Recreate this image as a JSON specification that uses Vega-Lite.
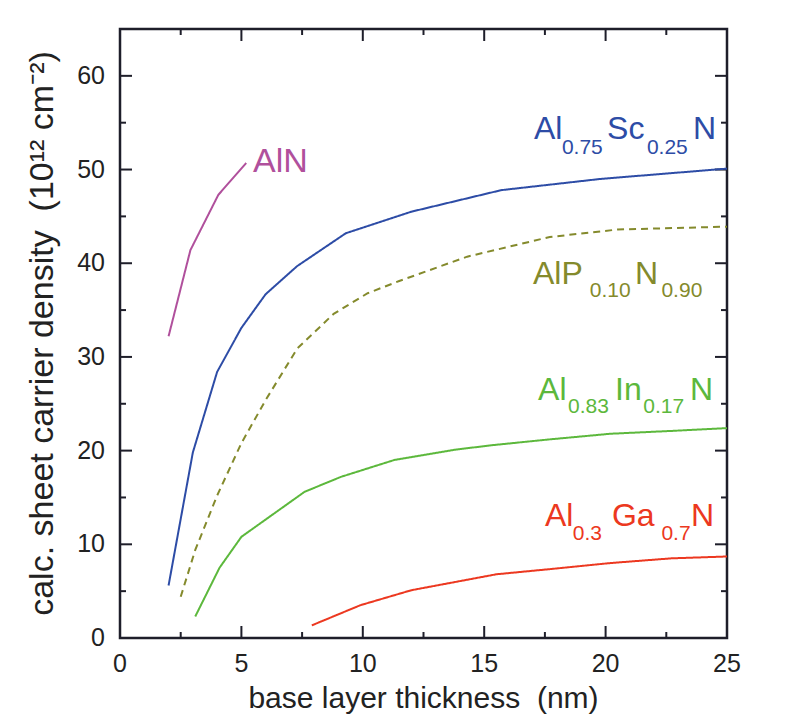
{
  "$schema": "https://vega.github.io/schema/vega-lite/v6.json",
  "width": 607,
  "height": 609,
  "autosize": "none",
  "padding": {"left": 120, "top": 29, "right": 68, "bottom": 84},
  "background": "white",
  "config": {
    "view": {"stroke": "#1e1e2a", "strokeWidth": 2.5},
    "text": {"font": "Liberation Sans"}
  },
  "datasets": {
    "curves": [
      {"series": "AlN", "x": 2.0, "y": 32.2}, {"series": "AlN", "x": 2.9, "y": 41.4}, {"series": "AlN", "x": 4.05, "y": 47.3}, {"series": "AlN", "x": 5.2, "y": 50.7},
      {"series": "AlScN", "x": 2.0, "y": 5.6}, {"series": "AlScN", "x": 3.0, "y": 19.8}, {"series": "AlScN", "x": 4.0, "y": 28.4}, {"series": "AlScN", "x": 5.0, "y": 33.1}, {"series": "AlScN", "x": 6.0, "y": 36.7}, {"series": "AlScN", "x": 7.3, "y": 39.7}, {"series": "AlScN", "x": 9.3, "y": 43.2}, {"series": "AlScN", "x": 12.0, "y": 45.5}, {"series": "AlScN", "x": 15.7, "y": 47.8}, {"series": "AlScN", "x": 19.8, "y": 49.0}, {"series": "AlScN", "x": 25.0, "y": 50.1},
      {"series": "AlPN", "x": 2.5, "y": 4.4}, {"series": "AlPN", "x": 3.1, "y": 9.4}, {"series": "AlPN", "x": 4.0, "y": 15.2}, {"series": "AlPN", "x": 5.0, "y": 20.8}, {"series": "AlPN", "x": 6.0, "y": 25.4}, {"series": "AlPN", "x": 7.3, "y": 30.9}, {"series": "AlPN", "x": 8.8, "y": 34.6}, {"series": "AlPN", "x": 10.2, "y": 36.8}, {"series": "AlPN", "x": 11.5, "y": 38.1}, {"series": "AlPN", "x": 14.3, "y": 40.7}, {"series": "AlPN", "x": 17.7, "y": 42.8}, {"series": "AlPN", "x": 20.5, "y": 43.6}, {"series": "AlPN", "x": 25.0, "y": 43.9},
      {"series": "AlInN", "x": 3.1, "y": 2.3}, {"series": "AlInN", "x": 4.1, "y": 7.5}, {"series": "AlInN", "x": 5.0, "y": 10.8}, {"series": "AlInN", "x": 6.3, "y": 13.2}, {"series": "AlInN", "x": 7.6, "y": 15.6}, {"series": "AlInN", "x": 9.1, "y": 17.2}, {"series": "AlInN", "x": 11.3, "y": 19.0}, {"series": "AlInN", "x": 13.8, "y": 20.1}, {"series": "AlInN", "x": 15.4, "y": 20.6}, {"series": "AlInN", "x": 17.7, "y": 21.2}, {"series": "AlInN", "x": 20.2, "y": 21.8}, {"series": "AlInN", "x": 22.7, "y": 22.1}, {"series": "AlInN", "x": 25.0, "y": 22.4},
      {"series": "AlGaN", "x": 7.9, "y": 1.35}, {"series": "AlGaN", "x": 9.9, "y": 3.5}, {"series": "AlGaN", "x": 12.0, "y": 5.1}, {"series": "AlGaN", "x": 15.5, "y": 6.8}, {"series": "AlGaN", "x": 17.7, "y": 7.35}, {"series": "AlGaN", "x": 20.2, "y": 8.0}, {"series": "AlGaN", "x": 22.7, "y": 8.5}, {"series": "AlGaN", "x": 25.0, "y": 8.7}
    ],
    "big": [
      {"series": "AlN", "t": "AlN", "x": 5.48, "y": 49.74, "size": "l"},
      {"series": "AlScN", "t": "Al", "x": 17.05, "y": 53.26, "size": "m"}, {"series": "AlScN", "t": "Sc", "x": 20.06, "y": 53.26, "size": "m"}, {"series": "AlScN", "t": "N", "x": 23.6, "y": 53.26, "size": "m"},
      {"series": "AlPN", "t": "AlP", "x": 17.01, "y": 37.78, "size": "m"}, {"series": "AlPN", "t": "N", "x": 21.21, "y": 37.78, "size": "m"},
      {"series": "AlInN", "t": "Al", "x": 17.22, "y": 25.4, "size": "m"}, {"series": "AlInN", "t": "In", "x": 20.39, "y": 25.4, "size": "m"}, {"series": "AlInN", "t": "N", "x": 23.48, "y": 25.4, "size": "m"},
      {"series": "AlGaN", "t": "Al", "x": 17.5, "y": 11.95, "size": "m"}, {"series": "AlGaN", "t": "Ga", "x": 20.26, "y": 11.95, "size": "m"}, {"series": "AlGaN", "t": "N", "x": 23.52, "y": 11.95, "size": "m"}
    ],
    "sub": [
      {"series": "AlScN", "t": "0.75", "x": 18.2, "y": 51.7}, {"series": "AlScN", "t": "0.25", "x": 21.7, "y": 51.7},
      {"series": "AlPN", "t": "0.10", "x": 19.35, "y": 36.4}, {"series": "AlPN", "t": "0.90", "x": 22.3, "y": 36.4},
      {"series": "AlInN", "t": "0.83", "x": 18.45, "y": 24.0}, {"series": "AlInN", "t": "0.17", "x": 21.55, "y": 24.0},
      {"series": "AlGaN", "t": "0.3", "x": 18.65, "y": 10.5}, {"series": "AlGaN", "t": "0.7", "x": 22.3, "y": 10.5}
    ],
    "xlab": [{"v": 0}, {"v": 5}, {"v": 10}, {"v": 15}, {"v": 20}, {"v": 25}],
    "ylab": [{"v": 0}, {"v": 10}, {"v": 20}, {"v": 30}, {"v": 40}, {"v": 50}, {"v": 60}],
    "xtitle": [{"t": "base layer thickness\u00a0 (nm)"}],
    "ytitle": [{"t": "calc. sheet carrier density\u00a0 (10¹² cm⁻²)"}],
    "xmajor": [{"v": 5}, {"v": 10}, {"v": 15}, {"v": 20}],
    "xminor": [{"v": 2.5}, {"v": 7.5}, {"v": 12.5}, {"v": 17.5}, {"v": 22.5}],
    "ymajor": [{"v": 10}, {"v": 20}, {"v": 30}, {"v": 40}, {"v": 50}, {"v": 60}],
    "yminor": [{"v": 5}, {"v": 15}, {"v": 25}, {"v": 35}, {"v": 45}, {"v": 55}]
  },
  "layer": [
    {
      "data": {"name": "xmajor"},
      "mark": {"type": "rule", "color": "#1e1e2a", "strokeWidth": 2, "opacity": 1},
      "encoding": {"x": {"field": "v", "type": "quantitative", "scale": {"domain": [0, 25], "nice": false, "zero": false}, "axis": null}, "y": {"datum": 0, "type": "quantitative", "scale": {"domain": [0, 65], "nice": false, "zero": false}, "axis": null}, "y2": {"datum": 1.28}}
    },
    {
      "data": {"name": "xmajor"},
      "mark": {"type": "rule", "color": "#1e1e2a", "strokeWidth": 2, "opacity": 1},
      "encoding": {"x": {"field": "v", "type": "quantitative", "axis": null}, "y": {"datum": 65, "type": "quantitative", "axis": null}, "y2": {"datum": 63.72}}
    },
    {
      "data": {"name": "xminor"},
      "mark": {"type": "rule", "color": "#1e1e2a", "strokeWidth": 2, "opacity": 1},
      "encoding": {"x": {"field": "v", "type": "quantitative", "axis": null}, "y": {"datum": 0, "type": "quantitative", "axis": null}, "y2": {"datum": 0.64}}
    },
    {
      "data": {"name": "xminor"},
      "mark": {"type": "rule", "color": "#1e1e2a", "strokeWidth": 2, "opacity": 1},
      "encoding": {"x": {"field": "v", "type": "quantitative", "axis": null}, "y": {"datum": 65, "type": "quantitative", "axis": null}, "y2": {"datum": 64.36}}
    },
    {
      "data": {"name": "ymajor"},
      "mark": {"type": "rule", "color": "#1e1e2a", "strokeWidth": 2, "opacity": 1},
      "encoding": {"y": {"field": "v", "type": "quantitative", "axis": null}, "x": {"datum": 0, "type": "quantitative", "axis": null}, "x2": {"datum": 0.494}}
    },
    {
      "data": {"name": "ymajor"},
      "mark": {"type": "rule", "color": "#1e1e2a", "strokeWidth": 2, "opacity": 1},
      "encoding": {"y": {"field": "v", "type": "quantitative", "axis": null}, "x": {"datum": 25, "type": "quantitative", "axis": null}, "x2": {"datum": 24.506}}
    },
    {
      "data": {"name": "yminor"},
      "mark": {"type": "rule", "color": "#1e1e2a", "strokeWidth": 2, "opacity": 1},
      "encoding": {"y": {"field": "v", "type": "quantitative", "axis": null}, "x": {"datum": 0, "type": "quantitative", "axis": null}, "x2": {"datum": 0.247}}
    },
    {
      "data": {"name": "yminor"},
      "mark": {"type": "rule", "color": "#1e1e2a", "strokeWidth": 2, "opacity": 1},
      "encoding": {"y": {"field": "v", "type": "quantitative", "axis": null}, "x": {"datum": 25, "type": "quantitative", "axis": null}, "x2": {"datum": 24.753}}
    },
    {
      "data": {"name": "curves"},
      "mark": {"type": "line", "strokeWidth": 2},
      "encoding": {
        "x": {"field": "x", "type": "quantitative", "axis": null},
        "y": {"field": "y", "type": "quantitative", "axis": null},
        "color": {"field": "series", "type": "nominal", "legend": null,
          "scale": {"domain": ["AlN", "AlScN", "AlPN", "AlInN", "AlGaN"], "range": ["#b0509c", "#2d4ca6", "#848a2c", "#5cb83c", "#ec3820"]}},
        "strokeDash": {"field": "series", "type": "nominal", "legend": null,
          "scale": {"domain": ["AlN", "AlScN", "AlPN", "AlInN", "AlGaN"], "range": [[1, 0], [1, 0], [7, 5], [1, 0], [1, 0]]}}
      }
    },
    {
      "data": {"name": "big"},
      "mark": {"type": "text", "align": "left", "baseline": "alphabetic"},
      "encoding": {
        "x": {"field": "x", "type": "quantitative", "axis": null},
        "y": {"field": "y", "type": "quantitative", "axis": null},
        "text": {"field": "t"},
        "size": {"field": "size", "type": "nominal", "legend": null, "scale": {"domain": ["m", "l"], "range": [32, 34]}},
        "color": {"field": "series", "type": "nominal", "legend": null}
      }
    },
    {
      "data": {"name": "sub"},
      "mark": {"type": "text", "align": "left", "baseline": "alphabetic", "fontSize": 21},
      "encoding": {
        "x": {"field": "x", "type": "quantitative", "axis": null},
        "y": {"field": "y", "type": "quantitative", "axis": null},
        "text": {"field": "t"},
        "color": {"field": "series", "type": "nominal", "legend": null}
      }
    },
    {
      "data": {"name": "xlab"},
      "mark": {"type": "text", "align": "center", "baseline": "top", "dy": 14, "fontSize": 25, "color": "#222222"},
      "encoding": {
        "x": {"field": "v", "type": "quantitative", "axis": null},
        "y": {"datum": 0, "type": "quantitative", "axis": null},
        "text": {"field": "v", "type": "quantitative"}
      }
    },
    {
      "data": {"name": "ylab"},
      "mark": {"type": "text", "align": "right", "baseline": "middle", "dx": -15, "fontSize": 25, "color": "#222222"},
      "encoding": {
        "y": {"field": "v", "type": "quantitative", "axis": null},
        "x": {"datum": 0, "type": "quantitative", "axis": null},
        "text": {"field": "v", "type": "quantitative"}
      }
    },
    {
      "data": {"name": "xtitle"},
      "mark": {"type": "text", "align": "center", "baseline": "alphabetic", "dy": 70, "fontSize": 30, "color": "#222222"},
      "encoding": {
        "x": {"datum": 12.5, "type": "quantitative", "axis": null},
        "y": {"datum": 0, "type": "quantitative", "axis": null},
        "text": {"field": "t"}
      }
    },
    {
      "data": {"name": "ytitle"},
      "mark": {"type": "text", "align": "center", "baseline": "middle", "angle": 270, "dy": -77, "fontSize": 34, "color": "#222222"},
      "encoding": {
        "x": {"datum": 0, "type": "quantitative", "axis": null},
        "y": {"datum": 32.5, "type": "quantitative", "axis": null},
        "text": {"field": "t"}
      }
    }
  ]
}
